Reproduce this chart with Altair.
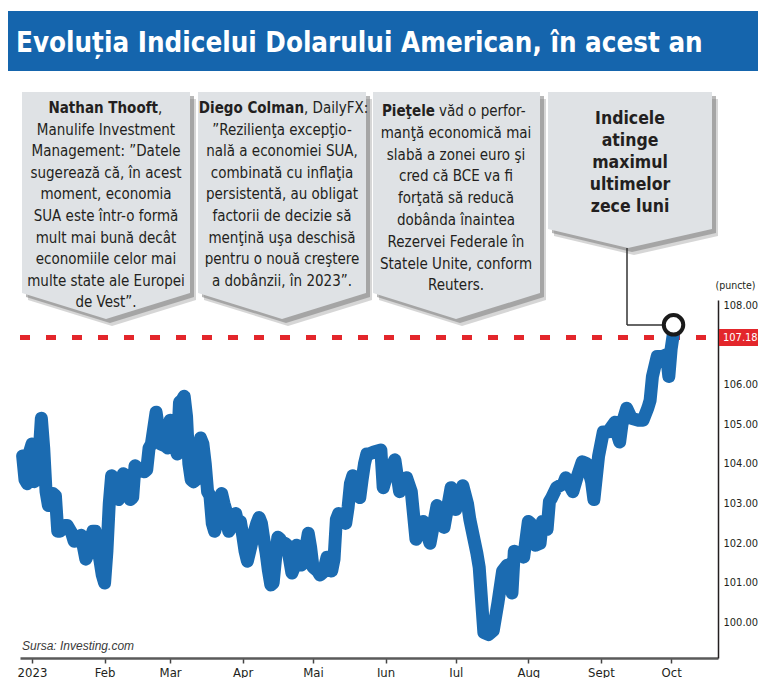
import json
import altair as alt
import pandas as pd

# ---------------- data ----------------
dates = [
    "2022-12-28", "2022-12-29", "2022-12-30", "2022-12-31", "2023-01-01", "2023-01-02",
    "2023-01-03", "2023-01-04", "2023-01-05", "2023-01-06", "2023-01-07", "2023-01-08",
    "2023-01-09", "2023-01-10", "2023-01-11", "2023-01-12", "2023-01-13", "2023-01-15",
    "2023-01-16", "2023-01-18", "2023-01-19", "2023-01-21", "2023-01-22", "2023-01-23",
    "2023-01-24", "2023-01-25", "2023-01-27", "2023-01-28", "2023-01-29", "2023-01-31",
    "2023-02-01", "2023-02-02", "2023-02-03", "2023-02-04", "2023-02-05", "2023-02-06",
    "2023-02-07", "2023-02-08", "2023-02-09", "2023-02-10", "2023-02-11", "2023-02-12",
    "2023-02-13", "2023-02-14", "2023-02-16", "2023-02-18", "2023-02-19", "2023-02-20",
    "2023-02-21", "2023-02-23", "2023-02-24", "2023-02-25", "2023-02-27", "2023-02-28",
    "2023-03-01", "2023-03-02", "2023-03-04", "2023-03-05", "2023-03-06", "2023-03-07",
    "2023-03-08", "2023-03-09", "2023-03-10", "2023-03-11", "2023-03-12", "2023-03-13",
    "2023-03-14", "2023-03-15", "2023-03-16", "2023-03-17", "2023-03-18", "2023-03-19",
    "2023-03-20", "2023-03-21", "2023-03-22", "2023-03-23", "2023-03-24", "2023-03-25",
    "2023-03-26", "2023-03-27", "2023-03-28", "2023-03-29", "2023-03-30", "2023-03-31",
    "2023-04-01", "2023-04-02", "2023-04-03", "2023-04-04", "2023-04-05", "2023-04-06",
    "2023-04-07", "2023-04-08", "2023-04-09", "2023-04-10", "2023-04-11", "2023-04-12",
    "2023-04-13", "2023-04-14", "2023-04-15", "2023-04-16", "2023-04-17", "2023-04-18",
    "2023-04-19", "2023-04-20", "2023-04-21", "2023-04-22", "2023-04-23", "2023-04-24",
    "2023-04-25", "2023-04-26", "2023-04-27", "2023-04-28", "2023-04-29", "2023-04-30",
    "2023-05-01", "2023-05-02", "2023-05-03", "2023-05-04", "2023-05-05", "2023-05-06",
    "2023-05-07", "2023-05-08", "2023-05-09", "2023-05-10", "2023-05-11", "2023-05-12",
    "2023-05-13", "2023-05-14", "2023-05-15", "2023-05-16", "2023-05-17", "2023-05-18",
    "2023-05-19", "2023-05-20", "2023-05-21", "2023-05-22", "2023-05-23", "2023-05-24",
    "2023-05-25", "2023-05-27", "2023-05-30", "2023-05-31", "2023-06-01", "2023-06-05",
    "2023-06-07", "2023-06-08", "2023-06-10", "2023-06-12", "2023-06-14", "2023-06-16",
    "2023-06-17", "2023-06-20", "2023-06-23", "2023-06-25", "2023-06-26", "2023-06-29",
    "2023-07-01", "2023-07-04", "2023-07-06", "2023-07-07", "2023-07-10", "2023-07-11",
    "2023-07-13", "2023-07-15", "2023-07-17", "2023-07-19", "2023-07-21", "2023-07-23",
    "2023-07-24", "2023-07-25", "2023-07-26", "2023-07-28", "2023-07-30", "2023-08-01",
    "2023-08-02", "2023-08-04", "2023-08-06", "2023-08-07", "2023-08-09", "2023-08-10",
    "2023-08-11", "2023-08-13", "2023-08-16", "2023-08-17", "2023-08-20", "2023-08-22",
    "2023-08-24", "2023-08-26", "2023-08-28", "2023-08-29", "2023-08-31", "2023-09-02",
    "2023-09-04", "2023-09-07", "2023-09-08", "2023-09-09", "2023-09-10", "2023-09-12",
    "2023-09-14", "2023-09-17", "2023-09-19", "2023-09-21", "2023-09-22", "2023-09-23",
    "2023-09-25", "2023-09-27", "2023-09-29", "2023-09-30", "2023-10-01", "2023-10-02",
]
values = [
    104.2, 103.6, 103.5, 104.3, 104.5, 103.55,
    104.4, 104.2, 105.15, 104.4, 103.3, 102.95,
    103.0, 103.25, 103.2, 102.3, 102.3, 102.45,
    102.45, 102.25, 102.05, 102.15, 102.2, 101.9,
    101.6, 101.75, 102.3, 102.3, 101.95, 101.2,
    101.0, 101.8, 103.0, 103.7, 103.65, 103.2,
    103.1, 103.2, 103.75, 103.7, 103.3, 103.1,
    103.15, 103.95, 103.85, 103.8, 103.85, 104.4,
    104.5, 105.3, 104.9, 104.5, 104.45, 104.4,
    105.1, 104.7, 104.25, 105.55, 105.6, 105.7,
    105.2, 104.0, 103.6, 103.55, 103.6, 104.3,
    104.65, 104.5, 104.0, 103.3, 103.2, 102.5,
    102.3, 102.5, 103.0, 103.25, 103.0, 102.8,
    102.3, 102.4, 102.7, 102.75, 102.5, 102.55,
    102.2, 101.8, 101.55, 101.8, 102.05, 102.3,
    102.5, 102.65, 102.5, 102.1, 101.75, 101.3,
    100.95, 101.0, 101.6, 102.15, 102.1, 101.9,
    102.0, 101.95, 101.6, 101.25, 101.4, 101.95,
    101.8, 101.45, 101.5, 101.9, 102.25, 101.9,
    101.4, 101.35, 101.3, 101.2, 101.25, 101.4,
    101.65, 101.45, 101.3, 101.6, 102.6, 102.75,
    102.65, 102.55, 102.5, 102.9, 103.5, 103.7,
    103.6, 103.3, 103.15, 103.6, 104.0, 104.25,
    104.25, 104.3, 104.35, 103.4, 103.6, 104.1,
    103.3, 103.5, 103.65, 103.3, 102.1, 102.4,
    102.55, 102.0, 102.95, 102.6, 102.4, 103.4,
    102.85, 103.45, 103.0, 102.6, 101.75, 101.4,
    99.75, 99.7, 99.8, 100.5, 101.3, 101.45,
    101.0, 100.75, 101.8, 101.75, 101.65, 102.55,
    102.5, 101.95, 102.0, 102.55, 102.35, 103.05,
    103.15, 103.4, 103.5, 103.65, 103.3, 103.7,
    104.05, 104.0, 103.55, 103.1, 104.2, 104.8,
    104.8, 105.05, 104.75, 104.55, 105.0, 105.4,
    105.15, 105.1, 105.1, 105.4, 105.6, 106.2,
    106.7, 106.7, 106.75, 106.2, 106.9, 107.3,
]

marker_dates = ["2023-10-02"]
marker_values = [107.5]
peak_values = [107.18]
peak_labels = ["107.18"]

y_tick_values = [100, 101, 102, 103, 104, 105, 106, 108]
month_starts = ["2023-01-01", "2023-02-01", "2023-03-01", "2023-04-01", "2023-05-01",
                "2023-06-01", "2023-07-01", "2023-08-01", "2023-09-01", "2023-10-01"]
month_labels = ["2023", "Feb", "Mar", "Apr", "Mai", "Iun", "Iul", "Aug", "Sept", "Oct"]
x_domain_dates = ["2022-12-26T21:00:00", "2023-10-21T00:00:00"]
y_domain = [99.11, 108.126]

title_text = "Evoluția Indicelui Dolarului American, în acest an"
unit_text = "(puncte)"
source_text = "Sursa: Investing.com"

box1_bold = "Nathan Thooft"
box1_tail = ","
box1_lines = ["Manulife Investment", "Management: ”Datele", "sugerează că, în acest",
              "moment, economia", "SUA este într-o formă", "mult mai bună decât",
              "economiile celor mai", "multe state ale Europei", "de Vest”."]
box2_bold = "Diego Colman"
box2_tail = ", DailyFX:"
box2_lines = ["”Rezilienţa excepţio-", "nală a economiei SUA,", "combinată cu inflaţia",
              "persistentă, au obligat", "factorii de decizie să", "menţină uşa deschisă",
              "pentru o nouă creştere", "a dobânzii, în 2023”."]
box3_bold = "Pieţele"
box3_tail = "văd o perfor-"
box3_lines = ["manţă economică mai", "slabă a zonei euro şi", "cred că BCE va fi",
              "forţată să reducă", "dobânda înaintea", "Rezervei Federale în",
              "Statele Unite, conform", "Reuters."]
box4_lines = ["Indicele", "atinge", "maximul", "ultimelor", "zece luni"]

# ---------------- styling ----------------
BLUE_LINE = "#1b6bb1"
BLUE_BAND = "#1565ad"
RED = "#e3262b"
INK = "#231f20"
BOX_FILL = "#dfe2e5"
NARROW = "DejaVu Sans Condensed, DejaVu Sans, sans-serif"

# reference-pixel origin of the plot area
OX, OY = 20, 300
PW, PH = 698, 358


def px(x):
    return x - OX


def py(y):
    return y - OY


def ms(s):
    return int(pd.Timestamp(s, tz="UTC").value // 10**6)


df = pd.DataFrame({"date": dates, "value": values})
marker_df = pd.DataFrame({"date": marker_dates, "value": marker_values})
peak_df = pd.DataFrame({"value": peak_values, "label": peak_labels})
one = pd.DataFrame({"k": [0]})

x_scale = alt.Scale(type="utc", domain=[ms(d) for d in x_domain_dates])
y_scale = alt.Scale(domain=y_domain, nice=False, zero=False)

label_expr = json.dumps(month_labels) + "[utcmonth(datum.value)]"

x_axis = alt.Axis(
    values=[ms(d) for d in month_starts],
    labelExpr=label_expr,
    title=None,
    grid=False,
    tickSize=5,
    tickColor="#444",
    tickWidth=1.5,
    domainColor="#5a5a5a",
    domainWidth=2.5,
    labelFont=NARROW,
    labelFontSize=13,
    labelColor=INK,
    labelPadding=3,
    labelFlush=False,
    labelOverlap=False,
)
y_axis = alt.Axis(
    orient="right",
    values=y_tick_values,
    format=".2f",
    ticks=False,
    tickSize=0,
    grid=False,
    domainColor=INK,
    domainWidth=1.5,
    labelFont=NARROW,
    labelFontSize=11,
    labelColor=INK,
    labelPadding=5,
    labelOverlap=False,
    title=unit_text,
    titleAngle=0,
    titleAlign="left",
    titleBaseline="alphabetic",
    titleX=-3,
    titleY=-12,
    titleFont=NARROW,
    titleFontSize=10.5,
    titleFontWeight="normal",
    titleColor=INK,
)
x_enc = alt.X("date:T", scale=x_scale, axis=x_axis)
y_enc = alt.Y("value:Q", scale=y_scale, axis=y_axis)

layers = []

# title band
layers.append(
    alt.Chart(one).mark_rect(color=BLUE_BAND).encode(
        x=alt.value(px(0)), x2=alt.value(px(770)), y=alt.value(py(11)), y2=alt.value(py(71))
    )
)
layers.append(
    alt.Chart(one).mark_text(
        text=title_text, font=NARROW, fontSize=27.5, fontWeight="bold", color="white",
        align="left", baseline="alphabetic",
    ).encode(x=alt.value(px(16)), y=alt.value(py(52)))
)


def box_path(left, right, top, corner, apex_x, apex_y, cx):
    return (f"M{left - cx},0 L{right - cx},0 L{right - cx},{corner - top} "
            f"L{apex_x - cx},{apex_y - top} L{left - cx},{corner - top} Z")


boxes = [
    # left, right, top, corner, apex_x, apex_y
    (22, 190, 92, 293, 106, 319),
    (198, 366, 92, 293, 282, 319),
    (373, 540, 92, 293, 456, 319),
    (548, 712, 92, 229, 628, 248),
]
for (l, r, t, c, ax, ay) in boxes:
    cx = (l + r) / 2
    path = box_path(l, r, t, c, ax, ay, cx)
    for dx, dy, col, op in [(6, 7, "#b5b5b5", 0.55), (4, 4, "#7d7d7d", 0.55)]:
        layers.append(
            alt.Chart(one).mark_point(
                shape=path, size=4, filled=True, fill=col, opacity=op, strokeWidth=0
            ).encode(x=alt.value(px(cx + dx)), y=alt.value(py(t + dy)))
        )
    layers.append(
        alt.Chart(one).mark_point(
            shape=path, size=4, filled=True, fill=BOX_FILL, opacity=1, strokeWidth=0
        ).encode(x=alt.value(px(cx)), y=alt.value(py(t)))
    )

FS = 15
LH = 21.6


def text_block(lines, x, y, size=FS, weight="normal", align="center", lh=LH, dx=0):
    return alt.Chart(one).mark_text(
        text=lines, font=NARROW, fontSize=size, fontWeight=weight, color=INK,
        align=align, baseline="alphabetic", lineHeight=lh, dx=dx,
    ).encode(x=alt.value(px(x)), y=alt.value(py(y)))


# box 1
b1 = 113
layers.append(text_block(box1_bold, 158, b1, weight="bold", align="right"))
layers.append(text_block(box1_tail, 158, b1, align="left"))
layers.append(text_block(box1_lines, 106, b1 + LH))
# box 2
layers.append(text_block(box2_bold, 304, b1, weight="bold", align="right"))
layers.append(text_block(box2_tail, 304, b1, align="left"))
layers.append(text_block(box2_lines, 282, b1 + LH))
# box 3
b3 = 116
layers.append(text_block(box3_bold, 435, b3, weight="bold", align="right"))
layers.append(text_block(box3_tail, 435, b3, align="left", dx=4))
layers.append(text_block(box3_lines, 456, b3 + 21.8, lh=21.8))
# box 4
layers.append(text_block(box4_lines, 630, 124, size=17.5, weight="bold", lh=22))

# leader line from box 4 to the marker
layers.append(
    alt.Chart(one).mark_rule(color="#333333", strokeWidth=1.5).encode(
        x=alt.value(px(627)), y=alt.value(py(248)), y2=alt.value(py(325))
    )
)
layers.append(
    alt.Chart(one).mark_rule(color="#333333", strokeWidth=1.5).encode(
        x=alt.value(px(627)), x2=alt.value(px(662)), y=alt.value(py(325))
    )
)

# red dashed level
layers.append(
    alt.Chart(peak_df).mark_rule(color=RED, strokeWidth=5, strokeDash=[10, 16]).encode(
        x=alt.value(px(20)), x2=alt.value(px(712)), y=y_enc,
    )
)

# the index line
layers.append(
    alt.Chart(df).mark_line(
        color=BLUE_LINE, strokeWidth=13, strokeJoin="round", strokeCap="round"
    ).encode(x=x_enc, y=y_enc)
)

# marker circle
layers.append(
    alt.Chart(marker_df).mark_point(
        shape="circle", size=380, filled=False, fill="white", stroke="#1a1a1a",
        strokeWidth=4, opacity=1, fillOpacity=1,
    ).encode(x=x_enc, y=y_enc)
)

# red value label on the axis
layers.append(
    alt.Chart(peak_df).mark_point(
        shape="M-19.5,-8.5 L19.5,-8.5 L19.5,8.5 L-19.5,8.5 Z", size=4, filled=True,
        fill=RED, opacity=1, strokeWidth=0,
    ).encode(x=alt.value(px(738.5)), y=y_enc)
)
layers.append(
    alt.Chart(peak_df).mark_text(
        font=NARROW, fontSize=11, color="white", align="left", baseline="middle"
    ).encode(x=alt.value(px(723)), y=y_enc, text="label:N")
)

# source
layers.append(
    alt.Chart(one).mark_text(
        text=source_text, font="Liberation Sans, Arial, sans-serif", fontSize=12,
        fontStyle="italic", color="#3a3a3a", align="left", baseline="alphabetic",
    ).encode(x=alt.value(px(22)), y=alt.value(py(650)))
)

chart = (
    alt.layer(*layers)
    .properties(
        width=PW,
        height=PH,
        padding={"left": 12, "top": 292, "right": 40, "bottom": 20},
        autosize=alt.AutoSizeParams(type="none"),
        background="white",
    )
    .configure_view(strokeWidth=0)
)

chart.save("out.html", embed_options={"renderer": "svg", "actions": False})
